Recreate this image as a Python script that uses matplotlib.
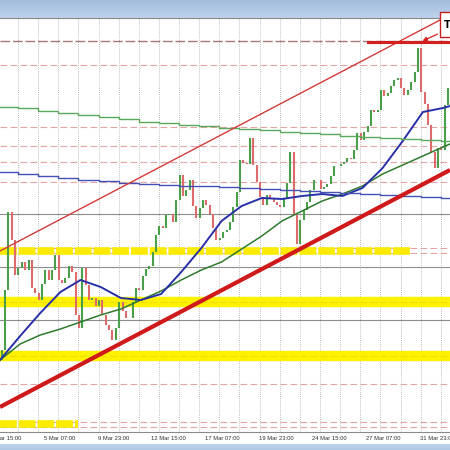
import numpy as np
import matplotlib.pyplot as plt
from matplotlib.patches import Rectangle

# x axis = trading hours since the left edge of the chart
# y axis = chart rows (18 = top, 432 = bottom)
X_MAX = 536.3

# 4-hour closes (price path)
close = [
    350, 290, 212, 240, 275, 268, 262, 270, 260, 288,
    293, 300, 284, 270, 280, 270, 255, 280, 283, 278,
    266, 272, 315, 328, 268, 285, 300, 298, 306, 300,
    315, 325, 330, 340, 328, 302, 311, 318, 318, 302,
    288, 290, 276, 269, 266, 252, 235, 226, 228, 215,
    214, 222, 200, 175, 196, 190, 180, 206, 218, 208,
    200, 205, 214, 228, 240, 238, 232, 230, 222, 207,
    192, 160, 163, 164, 138, 165, 182, 197, 205, 195,
    198, 202, 205, 207, 198, 183, 152, 215, 244, 220,
    210, 202, 190, 180, 180, 189, 187, 184, 176, 166,
    166, 164, 162, 158, 159, 150, 133, 140, 132, 126,
    110, 112, 110, 90, 96, 93, 86, 80, 78, 88,
    95, 90, 82, 72, 48, 92, 104, 125, 152, 168,
    148, 150, 105, 88, 84,
]
first_open = 360

# hourly moving averages, sampled once a day
blue_ma = [360, 336, 313, 292, 280, 287, 298, 300, 294, 272, 248, 221,
           206, 198, 199, 196, 194, 196, 188, 168, 141, 112, 108, 106]
green_ma = [360, 344, 335, 329, 322, 315, 309, 300, 291, 280, 270, 262,
            249, 236, 221, 211, 201, 194, 186, 174, 165, 156, 147, 144]

# daily moving averages (one value per day -> steps)
green_daily = [107, 108.5, 111, 113, 115.5, 117.5, 119.5, 122, 123.5, 125, 126.5, 128,
               129, 130.5, 132, 133, 134.5, 136, 137, 138, 139, 140, 141]
blue_daily = [172, 174, 176, 178, 180, 181.5, 183, 184, 185, 186, 186.5, 187.5,
              188, 189.5, 190.5, 191.5, 192.5, 193.5, 194.5, 195.5, 196.5, 197.5, 198]

# horizontal levels
pink_levels = [65, 127, 146, 162, 182, 248, 253, 384, 422, 427]
grey_levels = [214, 267, 320]
top_level = 41
yellow_full = [302, 356]
yellow_part = [251, 424]
yellow_part_end = [488.7, 93]

# trend lines (hour, row)
lower_trend = ([0, X_MAX], [407, 170])
upper_trend = ([0, 524.4], [251, 20])
high_line = ([438.6, X_MAX], [42, 42])

tick_labels = ['2 Mar 15:00', '5 Mar 07:00', '9 Mar 23:00', '12 Mar 15:00', '17 Mar 07:00',
               '19 Mar 23:00', '24 Mar 15:00', '27 Mar 07:00', '31 Mar 23:00']

fig = plt.figure(figsize=(4.5, 4.5), dpi=100)

# window title bar and bottom bar
top = fig.add_axes([0, 1 - 18 / 450, 1, 18 / 450])
grad = np.linspace(0, 1, 20)[:, None, None]
c1 = np.array([163, 190, 222]) / 255
c2 = np.array([190, 210, 236]) / 255
top.imshow(c1 + (c2 - c1) * grad * np.ones((1, 2, 3)), aspect='auto', extent=[0, 1, 0, 1])
top.axis('off')
bot = fig.add_axes([0, 0, 1, 6 / 450])
bot.imshow(c2 + (c1 - c2) * grad * 0.5 * np.ones((1, 2, 3)), aspect='auto', extent=[0, 1, 0, 1])
bot.axis('off')

ax = fig.add_axes([0, 18 / 450, 1, 414 / 450])
ax.set_xlim(0, X_MAX)
ax.set_ylim(432, 18)
ax.set_xticks([])
ax.set_yticks([])
for s in ['left', 'right']:
    ax.spines[s].set_visible(False)
for s in ['top', 'bottom']:
    ax.spines[s].set_color('#8a8a8a')
    ax.spines[s].set_linewidth(0.8)

# day separators
for h in np.arange(21.4, X_MAX, 24):
    ax.axvline(h, color='#a8a8a8', lw=0.6, ls=(0, (1, 1.5)), zorder=1)

# levels
for y in grey_levels:
    ax.axhline(y, color='#8e8e8e', lw=0.8, zorder=1)
for y in pink_levels:
    ax.axhline(y, color='#e2a4a4', lw=0.8, ls=(0, (6, 3)), zorder=1)
ax.axhline(top_level, color='#a87878', lw=1.0, ls=(0, (7, 2)), zorder=1)
for y in yellow_full:
    ax.axhline(y, color='#fff200', lw=7.5, zorder=2)
    ax.axhline(y, color='#f0dc00', lw=0.8, ls=(0, (6, 3)), zorder=2)
for y, end in zip(yellow_part, yellow_part_end):
    ax.plot([0, end], [y, y], color='#fbeb00', lw=5.5, ls=(0, (2.2, 0.25)), zorder=2)

# candles
hours = np.arange(len(close)) * 4 + 2
opens = np.array([first_open] + close[:-1])
cl = np.array(close)
cols = np.where(cl < opens, '#4aa04a', '#de6b6b')
ax.vlines(hours, opens, cl, colors=cols, lw=1.5, zorder=3)

# moving averages
ma_hours = np.append(np.arange(0, 529, 24), X_MAX)
ax.plot(ma_hours, green_ma, color='#2f7a2f', lw=1.1, zorder=4)
ax.plot(ma_hours, blue_ma, color='#2830a8', lw=1.4, zorder=4)
day_edges = np.append(0, np.arange(21.4, X_MAX, 24))
ax.step(np.append(day_edges, X_MAX), green_daily + [green_daily[-1]], where='post',
        color='#5aa85a', lw=1.0, zorder=4)
ax.step(np.append(day_edges, X_MAX), blue_daily + [blue_daily[-1]], where='post',
        color='#4450b4', lw=1.0, zorder=4)

# trend lines
ax.plot(*lower_trend, color='#d0191b', lw=3.0, zorder=5, solid_capstyle='butt')
ax.plot(*upper_trend, color='#d43a3a', lw=1.0, zorder=5, clip_on=False)
ax.plot(*high_line, color='#d41f1f', lw=2.2, zorder=5)
ax.annotate('', xy=(500.6, 42), xytext=(524.4, 33),
            arrowprops=dict(arrowstyle='-|>', color='#d42020', lw=0.9, mutation_scale=6),
            zorder=6, annotation_clip=False)
ax.add_patch(Rectangle((524.4, 11.7), 25, 25.3, facecolor='white', edgecolor='#c82020',
                       lw=1.0, zorder=7, clip_on=False))
ax.text(532.5, 25, 'T', fontsize=7, fontweight='bold', ha='center', va='center',
        zorder=8, clip_on=False)

# time labels (first and last are cut by the window edge, as on screen)
for i, lab in enumerate(tick_labels):
    ax.text(-11.6 + 64 * i, -0.0145, lab, transform=ax.get_xaxis_transform(),
            fontsize=4.2, family='Liberation Sans', color='#303030', ha='left', va='center')

fig.savefig('out.png', dpi=100)
